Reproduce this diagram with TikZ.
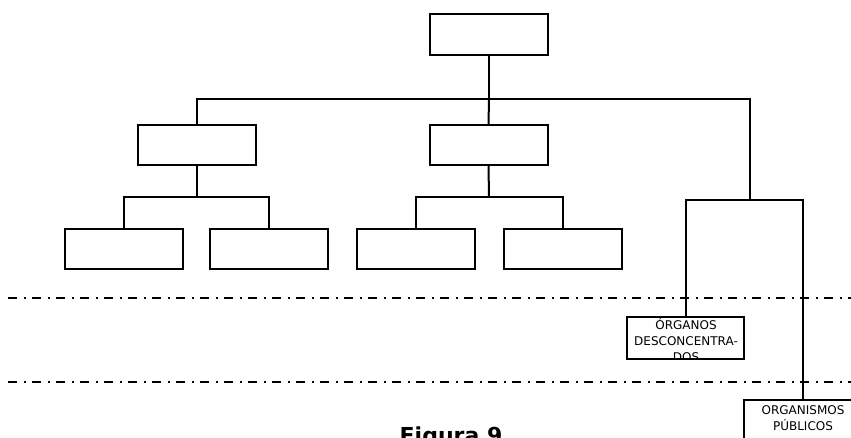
\documentclass[tikz,border=0pt]{standalone}
\usepackage{fontspec}
\newfontfamily\orgfont{DejaVu Sans}
\usepackage{tikz}
\usetikzlibrary{positioning,calc}

\tikzset{
    orgbox/.style={draw=black, line width=2pt, fill=white, minimum width=118pt, minimum height=41pt, inner sep=0pt},
    link/.style={draw=black, line width=2pt},
    level/.style={draw=black, line width=2pt, dash pattern=on 9pt off 7pt on 2pt off 6pt},
    orgtext/.style={font=\orgfont\fontsize{12}{16}\selectfont, align=center, inner sep=0pt}
}

\begin{document}
\begin{tikzpicture}[x=1pt, y=-1pt]
    \useasboundingbox (0,0) rectangle (851,437);
    \clip (0,0) rectangle (851,437);

    % =========================================================
    % LEVEL 1 AND LEVEL 2
    % =========================================================
    \node[orgbox] (top) at (489,34) {};
    \node[orgbox, minimum height=40pt] (deptA) at (197,145) {};
    \node[orgbox, minimum height=40pt] (deptB) at (488.5,145) {};

    \coordinate (busTop) at (489,99);
    \coordinate (busRight) at (750,200);

    \draw[link] (top.south) -- (busTop);
    \draw[link, line width=1.5pt] (deptA.north) |- (busTop) -| (busRight);
    \draw[link] (deptB.north) -- (busTop);

    % =========================================================
    % LEVEL 3
    % =========================================================
    \node[orgbox, minimum height=40pt] (unitA1) at (124,249) {};
    \node[orgbox, minimum height=40pt] (unitA2) at (269,249) {};
    \node[orgbox, minimum height=40pt] (unitB1) at (416,249) {};
    \node[orgbox, minimum height=40pt] (unitB2) at (563,249) {};

    \coordinate (busA) at (197,197);
    \coordinate (busB) at (489,197);

    \draw[link] (deptA.south) -- (busA);
    \draw[link] (unitA1.north) |- (busA) -| (unitA2.north);
    \draw[link] (deptB.south) -- (busB);
    \draw[link] (unitB1.north) |- (busB) -| (unitB2.north);

    % =========================================================
    % DASH-DOT LEVEL LINES
    % =========================================================
    \draw[level] (8,297.5) -- (851,297.5);
    \draw[level] (8,381.5) -- (851,381.5);

    % =========================================================
    % RIGHT BRANCH
    % =========================================================
    % Organos desconcentrados (text cut by the frame)
    \begin{scope}
        \clip (627,317) rectangle (744,359);
        \node[orgtext] (descText) at (686,340) {ÓRGANOS\\DESCONCENTRA-\\DOS};
    \end{scope}
    \node[orgbox, fill=none, minimum width=117pt, minimum height=42pt] (desc) at (685.5,338) {};

    % Organismos publicos
    \node[orgbox, minimum height=60pt] (pub) at (802.5,430) {};
    \node[orgtext] (pubText) at (803,418) {ORGANISMOS\\PÚBLICOS};

    \draw[link] (desc.north) |- (busRight);
    \draw[link] (pub.north) |- (busRight);

    % Caption
    \node[font=\orgfont\bfseries\fontsize{22}{26}\selectfont, anchor=base] (caption) at (451,443) {Figura 9};
\end{tikzpicture}
\end{document}
